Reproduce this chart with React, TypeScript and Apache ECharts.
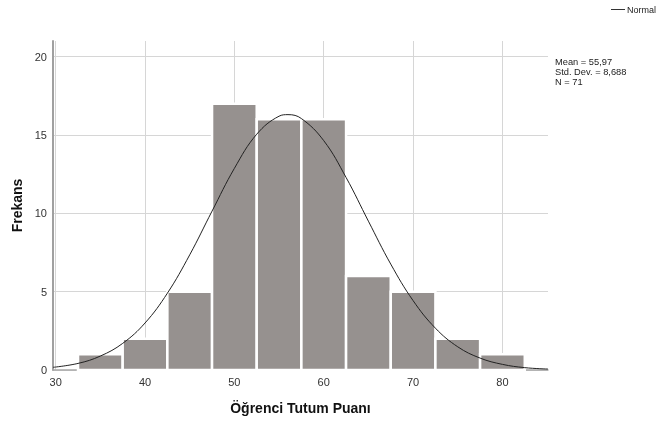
import React, { useEffect, useRef } from "react";
import * as echarts from "echarts";

// Histogram bins (bin width 5)
const binStarts = [32.5, 37.5, 42.5, 47.5, 52.5, 57.5, 62.5, 67.5, 72.5, 77.5];
const binEnds = [37.5, 42.5, 47.5, 52.5, 57.5, 62.5, 67.5, 72.5, 77.5, 82.5];
const counts = [1, 2, 5, 17, 16, 16, 6, 5, 2, 1];

// Normal curve points
const curveX = [29.7, 32.5, 35, 37.5, 40, 42.5, 45, 47.5, 50, 52.5, 55, 56, 57.5, 60, 62.5, 65, 67.5, 70, 72.5, 75, 77.5, 80, 82.5, 85.1];
const curveY = [0.17, 0.42, 0.89, 1.7, 3.0, 4.9, 7.35, 10.14, 12.87, 15.05, 16.2, 16.3, 16.05, 14.64, 12.29, 9.5, 6.76, 4.43, 2.67, 1.48, 0.76, 0.36, 0.15, 0.06];

const xTicks = [30, 40, 50, 60, 70, 80];
const yTicks = [0, 5, 10, 15, 20];
const statsLines = ["Mean = 55,97", "Std. Dev. = 8,688", "N = 71"];
const legendLabel = "Normal";

const FONT = "'Liberation Sans', Arial, sans-serif";

export default function App() {
  const ref = useRef<HTMLDivElement>(null);
  useEffect(() => {
    if (!ref.current) return;
    const chart = echarts.init(ref.current, undefined, { renderer: "svg" });
    const barData = binStarts.map((s, i) => [s, binEnds[i], counts[i]]);
    const lineData = curveX.map((x, i) => [x, curveY[i]]);
    chart.setOption({
      animation: false,
      textStyle: { fontFamily: FONT },
      grid: { left: 53, right: 111, top: 41, bottom: 51, outerBoundsMode: "none" },
      xAxis: {
        type: "value",
        min: 29.7,
        max: 85.1,
        name: "Öğrenci Tutum Puanı",
        nameLocation: "middle",
        nameGap: 31,
        nameTextStyle: { fontSize: 14, fontWeight: "bold", color: "#111", fontFamily: FONT },
        axisLine: { show: true, lineStyle: { color: "#a8a8a8", width: 1.5 } },
        axisTick: { show: false, customValues: xTicks },
        axisLabel: { customValues: xTicks, fontSize: 11, color: "#333", margin: 6, fontFamily: FONT },
        splitLine: { show: true, lineStyle: { color: "#d6d6d6", width: 1 } },
      },
      yAxis: {
        type: "value",
        min: 0,
        max: 21,
        name: "Frekans",
        nameLocation: "middle",
        nameGap: 28,
        nameRotate: 90,
        nameTextStyle: { fontSize: 14, fontWeight: "bold", color: "#111", fontFamily: FONT },
        axisLine: { show: true, lineStyle: { color: "#a0a0a0", width: 2 } },
        axisTick: { show: false, customValues: yTicks },
        axisLabel: { customValues: yTicks, fontSize: 11, color: "#333", margin: 6, fontFamily: FONT },
        splitLine: { show: true, lineStyle: { color: "#d6d6d6", width: 1 } },
      },
      series: [
        {
          type: "custom",
          name: "Histogram",
          data: barData,
          encode: { x: [0, 1], y: 2 },
          renderItem: (params: any, api: any) => {
            const p0 = api.coord([api.value(0), api.value(2)]);
            const p1 = api.coord([api.value(1), 0]);
            return {
              type: "rect",
              shape: { x: p0[0], y: p0[1], width: p1[0] - p0[0], height: p1[1] - p0[1] },
              style: { fill: "#96918f", stroke: "#ffffff", lineWidth: 2.5 },
            };
          },
          z: 2,
        },
        {
          type: "line",
          name: legendLabel,
          data: lineData,
          smooth: 0.4,
          symbol: "none",
          lineStyle: { color: "#222", width: 1 },
          z: 3,
        },
      ],
      graphic: [
        {
          type: "line",
          shape: { x1: 611, y1: 9.5, x2: 625, y2: 9.5 },
          style: { stroke: "#333", lineWidth: 1 },
        },
        {
          type: "text",
          x: 627,
          y: 9.5,
          style: {
            text: legendLabel,
            fontSize: 9,
            fill: "#222",
            fontFamily: FONT,
            verticalAlign: "middle",
          },
        },
        {
          type: "text",
          left: 555,
          top: 57,
          style: {
            text: statsLines.join("\n"),
            fontSize: 9.3,
            lineHeight: 10,
            fill: "#222",
            fontFamily: FONT,
          },
        },
      ],
    });
    return () => chart.dispose();
  }, []);
  return <div ref={ref} style={{ position: "fixed", left: 0, top: 0, width: 659, height: 421 }} />;
}
